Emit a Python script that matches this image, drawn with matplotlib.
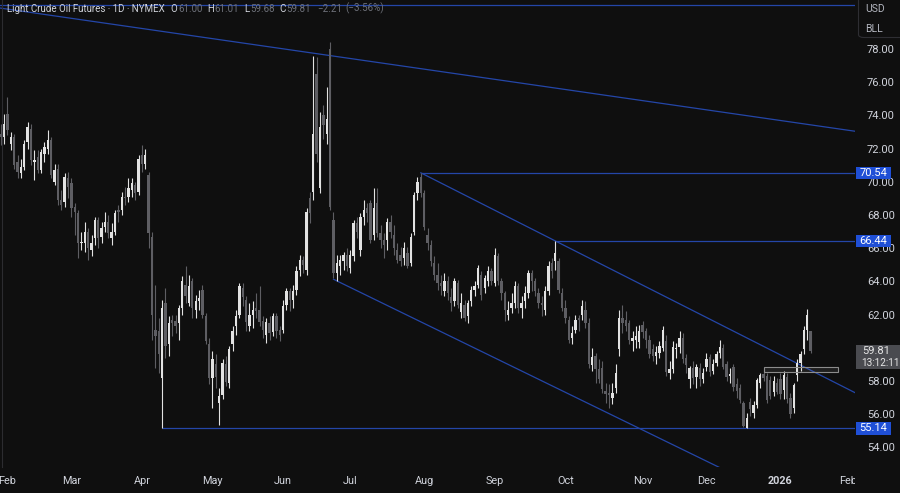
import numpy as np
import pandas as pd
import matplotlib.pyplot as plt
from matplotlib.patches import Rectangle, FancyBboxPatch

# daily candles (open, high, low, close)
jan25 = [(72.9, 73.5, 72.2, 72.7), (72.7, 74.1, 72.3, 73.5)]
feb25 = [(74.1, 75.1, 72.8, 73.1), (72.3, 73.0, 71.9, 72.7), (72.7, 72.9, 70.8, 71.0),
         (71.2, 71.6, 70.2, 70.6), (70.5, 71.4, 70.2, 70.9), (70.9, 72.5, 70.7, 72.3),
         (72.4, 73.6, 72.0, 73.3), (73.2, 73.5, 71.0, 71.3), (71.2, 71.9, 70.1, 71.3),
         (71.5, 71.9, 70.5, 70.7), (70.7, 72.0, 70.5, 71.8), (71.7, 72.4, 71.2, 72.1),
         (72.0, 73.1, 71.7, 72.5), (72.5, 72.7, 70.2, 70.4), (70.0, 71.1, 69.8, 70.7),
         (70.8, 71.1, 68.6, 68.9), (68.9, 69.5, 68.3, 68.6), (68.8, 70.5, 68.5, 70.3),
         (70.2, 70.6, 69.0, 69.7)]
mar25 = [(69.9, 70.2, 67.9, 68.4), (68.5, 68.7, 66.8, 68.2), (68.1, 68.3, 65.4, 66.3),
         (66.3, 67.0, 65.9, 66.4), (66.3, 67.6, 65.8, 67.0), (67.0, 67.2, 65.3, 66.0),
         (65.9, 66.8, 65.5, 66.3), (66.6, 67.9, 66.2, 67.7), (67.7, 67.9, 66.0, 66.6),
         (66.7, 67.6, 66.3, 67.2), (67.3, 68.2, 67.0, 67.6), (67.6, 68.0, 66.6, 66.9),
         (66.6, 67.5, 66.2, 67.0), (67.0, 68.3, 66.8, 68.1), (68.3, 68.6, 67.6, 68.2),
         (68.3, 69.4, 68.0, 69.1), (69.1, 69.7, 68.6, 69.0), (69.1, 70.2, 68.8, 69.6),
         (69.5, 70.2, 69.1, 69.9), (69.8, 70.0, 68.9, 69.3), (69.4, 71.6, 69.2, 71.4)]
apr25 = [(71.6, 72.2, 70.6, 71.1), (71.1, 72.0, 70.8, 71.6), (70.4, 70.6, 66.0, 66.9),
         (66.7, 67.0, 60.5, 62.0), (61.1, 63.8, 58.8, 60.7), (61.0, 61.8, 58.5, 59.6),
         (58.2, 62.9, 55.14, 62.4), (62.7, 63.6, 59.4, 60.1), (60.2, 61.9, 59.5, 61.5),
         (61.7, 62.0, 60.7, 61.5), (61.6, 62.0, 60.9, 61.3), (61.5, 62.6, 60.5, 62.4),
         (62.4, 64.3, 62.0, 64.0), (63.8, 64.9, 62.7, 63.1), (62.7, 64.4, 62.5, 63.7),
         (64.0, 64.2, 61.8, 62.4), (62.3, 63.2, 61.8, 62.8), (62.8, 63.5, 62.3, 63.0),
         (63.5, 63.8, 61.8, 62.0), (61.9, 62.1, 60.2, 60.4), (60.2, 60.6, 57.8, 58.2)]
may25 = [(58.2, 59.8, 56.4, 59.3), (59.0, 59.6, 57.6, 58.25), (56.7, 57.6, 55.35, 57.1),
         (57.15, 59.3, 56.9, 59.1), (59.0, 59.5, 57.7, 57.95), (57.9, 60.1, 57.6, 59.9),
         (60.2, 61.3, 59.8, 61.0), (61.3, 62.3, 60.8, 61.9), (62.0, 63.9, 61.8, 63.7),
         (63.6, 63.9, 62.5, 63.05), (62.9, 63.1, 61.0, 61.55), (61.3, 62.7, 61.0, 62.0),
         (62.0, 62.8, 61.2, 62.3), (62.4, 63.3, 61.8, 62.2), (62.3, 63.7, 61.3, 61.55),
         (61.6, 61.9, 60.6, 61.1), (60.8, 61.8, 60.3, 61.55), (61.5, 61.9, 60.5, 60.9),
         (60.95, 62.1, 60.7, 61.9), (61.9, 62.1, 60.6, 61.0), (61.1, 61.3, 60.4, 60.8)]
jun25 = [(61.1, 62.9, 60.9, 62.5), (62.6, 63.6, 62.3, 63.4), (63.4, 63.6, 62.2, 62.85),
         (62.9, 63.8, 62.4, 63.4), (63.5, 64.9, 63.2, 64.6), (64.7, 65.6, 64.3, 65.3),
         (65.3, 65.5, 64.5, 65.0), (64.7, 68.4, 64.4, 68.2), (69.0, 69.4, 67.5, 68.1),
         (69.4, 77.6, 68.9, 72.9), (76.5, 77.5, 71.2, 71.7), (69.6, 74.2, 69.3, 73.3),
         (74.0, 74.6, 72.6, 73.4), (72.9, 75.7, 72.3, 73.8), (78.0, 78.4, 68.3, 68.5),
         (67.7, 68.2, 64.2, 64.5), (64.5, 65.6, 64.0, 65.1), (64.9, 65.6, 64.4, 65.3),
         (65.2, 65.8, 64.7, 65.6), (65.6, 66.0, 64.6, 64.9)]
jul25 = [(64.8, 65.9, 64.5, 65.6), (65.5, 67.7, 65.2, 67.5), (67.5, 67.9, 66.6, 67.0),
         (65.9, 68.1, 65.5, 67.9), (67.9, 68.9, 67.4, 68.3), (68.4, 68.7, 67.6, 68.1),
         (68.7, 68.9, 66.3, 66.5), (66.8, 69.6, 66.5, 68.4), (68.7, 69.6, 66.7, 66.9),
         (66.9, 67.4, 66.0, 66.5), (66.5, 66.9, 65.4, 66.2), (66.5, 67.8, 65.9, 67.6),
         (67.6, 68.0, 66.6, 67.0), (66.8, 67.4, 65.6, 66.0), (65.9, 66.3, 65.1, 65.3),
         (65.6, 66.1, 64.9, 65.2), (65.4, 66.4, 65.0, 66.0), (65.7, 66.1, 64.8, 64.9),
         (65.1, 66.9, 64.9, 66.7), (67.0, 69.4, 66.8, 69.2), (69.3, 70.3, 68.9, 70.0),
         (70.3, 70.54, 69.1, 69.3)]
aug25 = [(69.3, 69.5, 67.1, 67.3), (66.8, 67.2, 65.9, 66.3), (66.2, 66.5, 64.9, 65.2),
         (65.1, 65.5, 64.1, 64.4), (64.4, 65.1, 63.5, 63.9), (63.9, 64.4, 63.2, 63.7),
         (63.4, 64.5, 63.1, 64.0), (64.0, 64.3, 62.9, 63.3), (63.05, 63.6, 62.2, 62.7),
         (62.8, 64.2, 62.5, 64.0), (63.9, 64.1, 62.4, 62.6), (62.15, 63.3, 61.8, 62.7),
         (62.6, 62.9, 61.6, 61.8), (61.9, 62.9, 61.5, 62.7), (62.8, 63.7, 62.5, 63.5),
         (63.5, 64.0, 63.1, 63.7), (63.8, 65.0, 63.6, 64.8), (64.4, 64.6, 62.9, 63.2),
         (63.6, 64.4, 63.3, 64.2), (64.0, 64.9, 63.7, 64.6), (64.6, 64.8, 63.8, 64.0)]
sep25 = [(63.9, 66.0, 63.7, 65.6), (65.5, 65.7, 63.8, 64.0), (64.0, 64.2, 62.9, 63.3),
         (63.3, 63.4, 61.6, 62.3), (62.0, 62.8, 61.7, 62.3), (62.4, 63.3, 62.1, 62.7),
         (62.7, 64.0, 62.4, 63.7), (63.7, 63.9, 62.1, 62.4), (62.4, 63.1, 61.8, 62.7),
         (62.8, 63.7, 62.4, 63.3), (63.3, 64.7, 63.0, 64.5), (64.5, 64.7, 63.4, 64.0),
         (64.0, 64.2, 63.1, 63.4), (63.3, 63.6, 62.4, 62.7), (62.7, 63.1, 61.9, 62.6),
         (62.3, 63.7, 62.0, 63.4), (63.4, 65.2, 63.2, 64.9), (65.1, 65.4, 64.2, 64.6),
         (65.2, 66.44, 64.7, 65.7), (65.2, 65.4, 63.3, 63.5), (63.3, 63.6, 62.2, 62.4)]
oct25 = [(62.4, 62.9, 61.5, 61.8), (61.7, 61.9, 60.3, 60.5), (60.6, 61.3, 60.2, 60.9),
         (61.1, 62.0, 60.9, 61.7), (61.8, 62.0, 61.0, 61.7), (62.0, 62.9, 61.7, 62.5),
         (62.3, 62.8, 61.2, 61.5), (61.5, 61.8, 58.8, 59.0), (58.96, 60.0, 58.6, 59.45),
         (59.5, 59.7, 57.9, 58.7), (58.7, 59.3, 57.9, 58.1), (58.8, 59.2, 57.3, 57.5),
         (57.4, 57.9, 56.7, 57.2), (57.3, 57.8, 56.4, 57.15), (57.0, 57.9, 56.6, 57.3),
         (57.6, 59.0, 57.3, 58.5), (59.9, 62.3, 59.5, 61.8), (61.8, 62.6, 60.9, 61.5),
         (61.7, 62.2, 61.0, 61.3), (61.5, 61.7, 60.2, 60.5), (60.4, 61.0, 59.8, 60.6),
         (60.5, 61.3, 60.0, 60.7), (60.35, 61.4, 60.0, 61.0)]
nov25 = [(61.4, 61.6, 60.6, 60.95), (61.0, 61.2, 60.0, 60.5), (60.5, 60.8, 59.4, 59.6),
         (59.9, 60.2, 59.2, 59.5), (59.5, 60.1, 59.0, 59.75), (59.7, 60.4, 59.4, 60.1),
         (60.0, 61.3, 59.8, 61.1), (60.4, 60.8, 58.3, 58.55), (58.5, 59.2, 58.1, 58.7),
         (58.7, 60.4, 58.5, 60.05), (59.9, 60.3, 59.4, 60.0), (60.05, 61.0, 59.7, 60.6),
         (60.6, 60.9, 59.1, 59.3), (59.4, 59.6, 58.5, 58.95), (58.1, 58.9, 57.6, 58.8),
         (58.8, 59.2, 57.8, 58.2), (58.25, 59.0, 57.6, 58.85), (58.8, 59.1, 57.7, 58.1),
         (58.1, 58.8, 57.9, 58.5)]
dec25 = [(58.85, 59.7, 58.6, 59.3), (59.45, 59.6, 58.3, 58.55), (58.6, 59.3, 58.4, 59.0),
         (59.1, 59.8, 58.9, 59.6), (59.7, 60.5, 59.4, 60.05), (60.0, 60.2, 58.7, 58.85),
         (59.0, 59.2, 58.0, 58.25), (58.3, 58.8, 57.9, 58.45), (58.85, 59.0, 57.4, 57.65),
         (57.8, 58.2, 57.0, 57.4), (57.6, 57.8, 56.7, 56.85), (56.7, 56.8, 55.2, 55.3),
         (55.15, 56.1, 55.14, 55.8), (56.75, 57.0, 55.9, 56.3), (56.1, 56.8, 55.8, 56.55),
         (56.55, 58.2, 56.4, 58.05), (57.9, 58.5, 57.6, 58.35), (58.4, 58.7, 58.0, 58.2),
         (58.3, 58.5, 56.7, 56.85), (58.05, 58.3, 56.9, 57.1), (57.35, 58.3, 57.1, 58.0),
         (57.9, 58.2, 57.2, 57.35)]
jan26 = [(58.1, 58.5, 56.9, 57.2), (57.45, 58.6, 56.9, 58.35), (58.25, 58.5, 56.7, 56.9),
         (57.0, 57.3, 55.8, 56.0), (56.4, 57.9, 56.1, 57.75), (58.35, 59.3, 58.0, 59.1),
         (59.1, 59.8, 58.6, 59.6), (59.9, 61.3, 59.6, 61.1), (61.1, 62.35, 60.5, 62.0),
         (61.00, 61.01, 59.68, 59.81)]

holidays = ['2025-02-17', '2025-04-18', '2025-05-26', '2025-06-19', '2025-07-04',
            '2025-09-01', '2025-11-27', '2025-12-25', '2026-01-01', '2026-01-19',
            '2026-02-16']

# drawn levels / trend lines (date, price)
level_top = 80.65
levels = [('2025-04-09', 55.14), ('2025-07-31', 70.54), ('2025-09-26', 66.44)]
long_trend = [('2025-01-30', 80.46), ('2026-01-15', 73.43)]
upper_chan = [('2025-07-31', 70.54), ('2025-09-26', 66.44)]
lower_chan = [('2025-06-24', 64.13), ('2025-12-08', 52.68)]
zone = ('2025-12-24', '2026-01-28', 58.56, 58.84)
last_price = 59.81
countdown = '13:12:11'
header = [('Light Crude Oil Futures · 1D · NYMEX', 'main', 6), ('O', 'main', 0.5),
          ('61.00', 'grey', 5), ('H', 'main', 0.5), ('61.01', 'grey', 5),
          ('L', 'main', 0.5), ('59.68', 'grey', 5), ('C', 'main', 0.5),
          ('59.81', 'grey', 6), ('−2.21', 'grey', 4), ('(−3.56%)', 'grey', 0)]

BG = '#0f0f0f'
UP = '#e2e2e2'
DOWN = '#5e5e63'
LINE = '#2446a8'
LABEL_BLUE = '#1f4fd6'
TXT = '#d1d4dc'
GREY_TXT = '#6e717a'

plt.rcParams['font.family'] = ['Roboto', 'DejaVu Sans']

days = pd.bdate_range('2025-01-30', '2026-02-27', freq='C', holidays=holidays)
pos = lambda d: days.get_loc(pd.Timestamp(d))

ohlc = np.array(jan25 + feb25 + mar25 + apr25 + may25 + jun25 + jul25 + aug25 +
                sep25 + oct25 + nov25 + dec25 + jan26)
o, h, l, c = ohlc.T
x = np.arange(len(ohlc))
cols = np.where(c >= o, UP, DOWN)

W, H = 900, 493
fig = plt.figure(figsize=(9, 4.93), dpi=100, facecolor=BG)
ax = fig.add_axes([0, 1 - 467 / H, 855 / W, 467 / H], facecolor=BG)

# candles
ax.vlines(x, l, h, colors=cols, lw=0.8, zorder=3)
ax.bar(x, np.maximum(np.abs(c - o), 0.06), bottom=np.minimum(o, c), width=0.7,
       color=cols, linewidth=0, zorder=4)

xmin, xmax = -0.23, 254.2
ax.set_xlim(xmin, xmax)
ax.set_ylim(52.82, 80.95)

# lines
ax.axhline(level_top, color=LINE, lw=0.9, zorder=2)
for d, p in levels:
    ax.hlines(p, pos(d), xmax, color=LINE, lw=0.9, zorder=2)
(d1, p1), (d2, p2) = long_trend
ax.axline((pos(d1), p1), (pos(d2), p2), color=LINE, lw=0.9, zorder=2)
for (d1, p1), (d2, p2) in [upper_chan, lower_chan]:
    x1, x2 = pos(d1), pos(d2)
    slope = (p2 - p1) / (x2 - x1)
    ax.plot([x1, xmax], [p1, p1 + slope * (xmax - x1)], color=LINE, lw=0.9, zorder=2)
zx1, zx2 = pos(zone[0]), pos(zone[1])
ax.add_patch(Rectangle((zx1, zone[2]), zx2 - zx1, zone[3] - zone[2],
                       facecolor=(1, 1, 1, 0.07), edgecolor='#8c8c8c', lw=0.8, zorder=5))

# axes
for s in ax.spines.values():
    s.set_visible(False)
months = days.to_period('M')
firsts = [i for i in range(1, len(days)) if months[i] != months[i - 1]]
ax.set_xticks(firsts)
ax.set_xticklabels(['2026' if days[i].month == 1 else days[i].strftime('%b') for i in firsts])
for lab, i in zip(ax.get_xticklabels(), firsts):
    if days[i].month == 1:
        lab.set_fontweight('bold')
ax.tick_params(axis='x', length=0, pad=6.5, labelsize=7.8, labelcolor=TXT)
yt = np.arange(54, 79, 2)
ax.set_yticks(yt)
# 60.00 sits under the last-price box
ax.set_yticklabels(['' if v == 60 else f'{v:.2f}' for v in yt])
ax.tick_params(axis='y', left=False, right=False, labelleft=False, labelright=True,
               pad=5, labelsize=8, labelcolor=TXT)


def fpx(xp, yp):
    return xp / W, 1 - yp / H


def price_y(p):
    return 49 + (78 - p) * 16.6


# cover the price-scale column under the time axis
fig.patches.append(Rectangle(fpx(855, 493), 45 / W, 26 / H, transform=fig.transFigure,
                             facecolor=BG, edgecolor='none', zorder=5))
fig.add_artist(plt.Line2D([1.5 / W, 1.5 / W], [1 - 467 / H, 1], color='#2c2c30', lw=0.8))

# level labels on the price scale
for d, p in levels:
    yc = price_y(p)
    fig.patches.append(Rectangle(fpx(856, yc + 6.2), 35 / W, 12.4 / H, transform=fig.transFigure,
                                 facecolor=LABEL_BLUE, edgecolor='none', zorder=6))
    fig.text(*fpx(873.5, yc), f'{p:.2f}', color='white', fontsize=8, ha='center',
             va='center', zorder=7)

yc = price_y(last_price)
fig.patches.append(Rectangle(fpx(856, yc + 18), 44 / W, 24 / H, transform=fig.transFigure,
                             facecolor='#4a4b50', edgecolor='none', zorder=6))
fig.text(*fpx(862, yc), f'{last_price:.2f}', color='#e6e6e6', fontsize=8, va='center', zorder=7)
fig.text(*fpx(861, yc + 12), countdown, color='#e6e6e6', fontsize=7.2, va='center', zorder=7)

# currency / unit box
fig.patches.append(FancyBboxPatch(fpx(858.5, 37.5), 50 / W, 45 / H, transform=fig.transFigure,
                                  boxstyle='round,pad=0,rounding_size=0.006',
                                  facecolor=BG, edgecolor='#2e2e33', lw=0.8, zorder=6))
fig.text(*fpx(865, 9), 'USD', color='#b2b5be', fontsize=7.5, va='center', zorder=7)
fig.text(*fpx(865, 29), 'BLL', color='#b2b5be', fontsize=7.5, va='center', zorder=7)

# header, laid out piece by piece
renderer = fig.canvas.get_renderer()
hx, hy = 7, 8.5
for s, kind, gap in header:
    t = fig.text(*fpx(hx, hy), s, color=TXT if kind == 'main' else GREY_TXT,
                 fontsize=7.0, va='center')
    hx = t.get_window_extent(renderer).x1 + gap

fig.savefig('out.png', dpi=100, facecolor=BG)
